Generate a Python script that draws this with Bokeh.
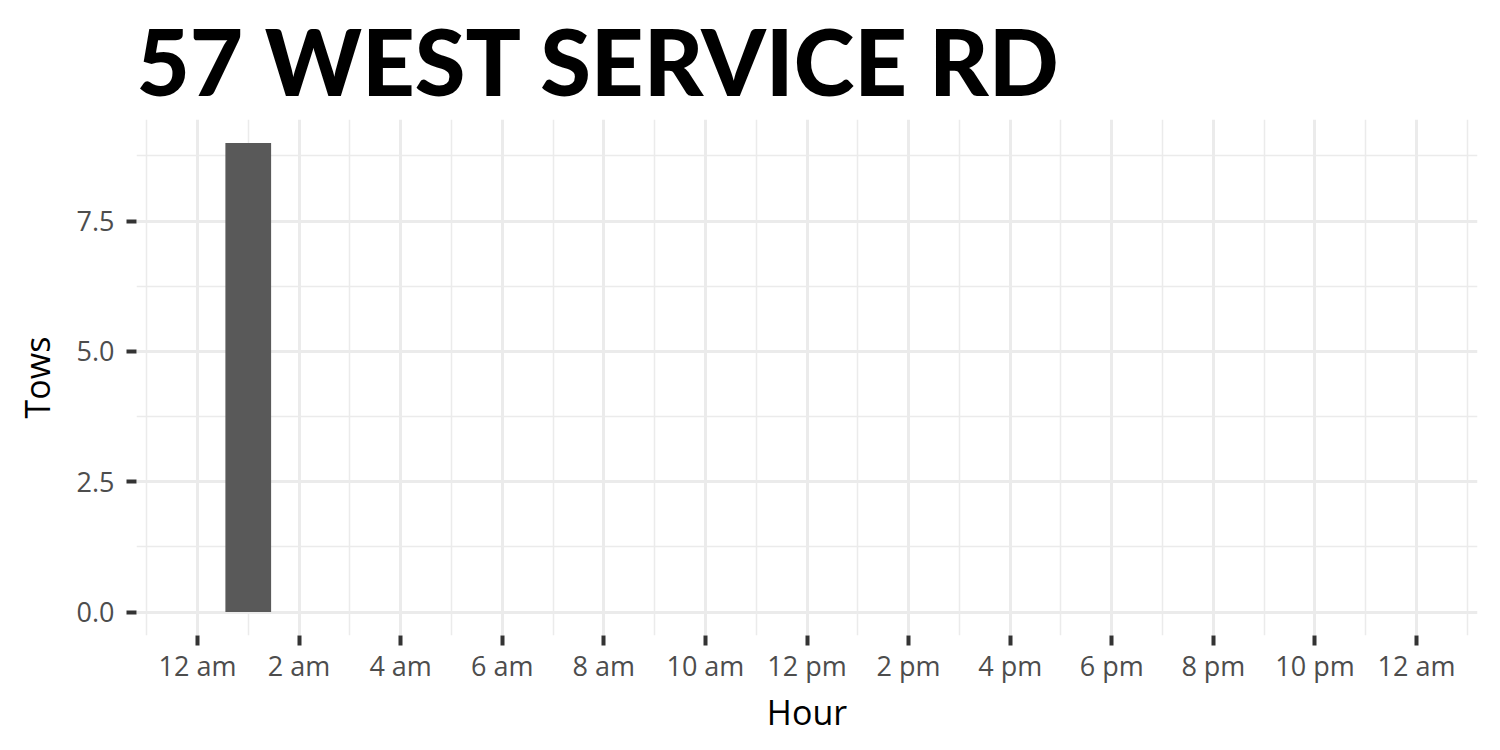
from bokeh.plotting import figure
from bokeh.models import ColumnDataSource, FixedTicker, Range1d, PrintfTickFormatter
from bokeh.embed import file_html
from bokeh.resources import INLINE

# ---- data ----
title_text = "57 WEST SERVICE RD"
hours = [1]
tows = [9]
x_ticks = [0, 2, 4, 6, 8, 10, 12, 14, 16, 18, 20, 22, 24]
x_labels = ["12 am", "2 am", "4 am", "6 am", "8 am", "10 am", "12 pm",
            "2 pm", "4 pm", "6 pm", "8 pm", "10 pm", "12 am"]
x_minor = [-1, 1, 3, 5, 7, 9, 11, 13, 15, 17, 19, 21, 23, 25]
y_ticks = [0, 2.5, 5, 7.5]
y_minor = [1.25, 3.75, 6.25, 8.75]

src = ColumnDataSource(dict(hour=hours, tows=tows))

SHIFT = 8
p = figure(width=1500, height=750 + SHIFT, output_backend="svg", toolbar_location=None,
           x_range=Range1d(-1.2, 25.2), y_range=Range1d(-0.45, 9.45),
           min_border_left=136, min_border_right=23, min_border_bottom=115,
           min_border_top=119 + SHIFT, margin=(-SHIFT, 0, 0, 0))

p.vbar(x="hour", top="tows", bottom=0, width=0.9, source=src,
       fill_color="#595959", line_color=None)

p.title.text = title_text
p.title.text_font = "Lato Black"
p.title.text_font_style = "bold"
p.title.text_font_size = "92px"
p.title.text_color = "#000000"
p.title.align = "left"
p.title.vertical_align = "bottom"
p.title.offset = 0
p.title.standoff = SHIFT

p.background_fill_color = "white"
p.border_fill_color = "white"
p.outline_line_color = None

xt = FixedTicker(ticks=x_ticks, minor_ticks=x_minor)
yt = FixedTicker(ticks=y_ticks, minor_ticks=y_minor)
p.xaxis.ticker = xt
p.yaxis.ticker = yt
p.xgrid.ticker = xt
p.ygrid.ticker = yt
p.xaxis.major_label_overrides = {t: l for t, l in zip(x_ticks, x_labels)}
p.yaxis.formatter = PrintfTickFormatter(format="%.1f")

for g in (p.xgrid, p.ygrid):
    g.grid_line_color = "#EBEBEB"
    g.grid_line_width = 3
    g.minor_grid_line_color = "#EBEBEB"
    g.minor_grid_line_width = 1.5

for ax in (p.xaxis, p.yaxis):
    ax.axis_line_color = None
    ax.major_tick_line_color = "#333333"
    ax.major_tick_line_width = 4
    ax.major_tick_in = 0
    ax.major_tick_out = 10
    ax.minor_tick_line_color = None
    ax.major_label_text_font = "Open Sans"
    ax.major_label_text_font_size = "27px"
    ax.major_label_text_color = "#4D4D4D"
    ax.axis_label_text_font = "Open Sans"
    ax.axis_label_text_font_size = "34px"
    ax.axis_label_text_font_style = "normal"
    ax.axis_label_text_color = "#000000"

p.xaxis.axis_label = "Hour"
p.yaxis.axis_label = "Tows"
p.xaxis.major_label_standoff = 1
p.yaxis.major_label_standoff = 12
p.xaxis.axis_label_standoff = 2
p.yaxis.axis_label_standoff = 14

open("out.html", "w").write(file_html(p, INLINE))
